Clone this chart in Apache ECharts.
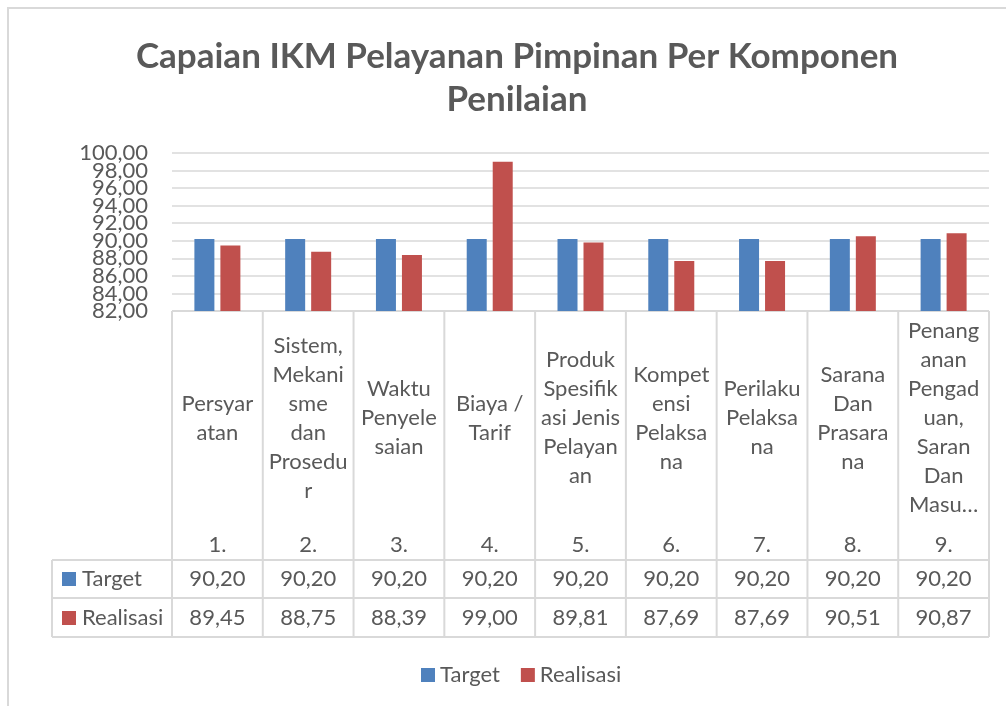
<!DOCTYPE html>
<html>
<head>
<meta charset="utf-8">
<script src="https://cdn.jsdelivr.net/npm/echarts@6/dist/echarts.min.js"></script>
<style>html,body{margin:0;padding:0;background:#fff}#c{width:1006px;height:706px}</style>
</head>
<body>
<div id="c"></div>
<script>
const titleText = 'Capaian IKM Pelayanan Pimpinan Per Komponen\nPenilaian';
const categoryLabels = [
  'Persyar\natan',
  'Sistem,\nMekani\nsme\ndan\nProsedu\nr',
  'Waktu\nPenyele\nsaian',
  'Biaya /\nTarif',
  'Produk\nSpesifik\nasi Jenis\nPelayan\nan',
  'Kompet\nensi\nPelaksa\nna',
  'Perilaku\nPelaksa\nna',
  'Sarana\nDan\nPrasara\nna',
  'Penang\nanan\nPengad\nuan,\nSaran\nDan\nMasu\u2026'
];
const categoryNumbers = ['1.', '2.', '3.', '4.', '5.', '6.', '7.', '8.', '9.'];
const seriesNames = ['Target', 'Realisasi'];
const targetValues = [90.20, 90.20, 90.20, 90.20, 90.20, 90.20, 90.20, 90.20, 90.20];
const realisasiValues = [89.45, 88.75, 88.39, 99.00, 89.81, 87.69, 87.69, 90.51, 90.87];
const yTicks = [82, 84, 86, 88, 90, 92, 94, 96, 98, 100];
const yMin = 82, yMax = 100, yStep = 2;

const FONT = 'Lato';
const TXT = '#595959';
const LINE = '#D9D9D9';
const BLUE = '#4F81BD';
const RED = '#C0504D';
const fmt = v => v.toFixed(2).replace('.', ',');

const chart = echarts.init(document.getElementById('c'), null, {renderer: 'canvas'});
const gridLeft = 172, gridRight = 17, gridTop = 153, gridBottomY = 311;

chart.setOption({
  animation: false,
  textStyle: {fontFamily: FONT},
  title: {
    text: titleText,
    left: 512, top: 30, textAlign: 'center',
    textStyle: {fontFamily: FONT, fontSize: 35, fontWeight: 'bold', color: TXT, lineHeight: 43}
  },
  legend: {
    data: seriesNames,
    left: 416, top: 659,
    icon: 'rect', itemWidth: 14, itemHeight: 14, itemGap: 21,
    textStyle: {fontFamily: FONT, fontSize: 22, color: TXT, padding: [0, 0, 0, 0]}
  },
  grid: {left: gridLeft, right: gridRight, top: gridTop, bottom: 706 - gridBottomY, containLabel: false},
  xAxis: {
    type: 'category',
    data: categoryNumbers,
    axisLine: {show: false}, axisTick: {show: false}, axisLabel: {show: false}
  },
  yAxis: {
    type: 'value', min: yMin, max: yMax, interval: yStep,
    axisLine: {show: false}, axisTick: {show: false},
    splitLine: {lineStyle: {color: LINE, width: 1.5}},
    axisLabel: {show: false}
  },
  series: [
    {name: seriesNames[0], type: 'bar', data: targetValues, barWidth: 20, barGap: '30%', itemStyle: {color: BLUE}},
    {name: seriesNames[1], type: 'bar', data: realisasiValues, barWidth: 20, barGap: '30%', itemStyle: {color: RED}}
  ]
});

const g = [];
const txt = (x, y, text, align, extra) => g.push(Object.assign({
  type: 'text', x, y,
  style: {text, fill: TXT, font: '22px ' + FONT, align: align || 'center', verticalAlign: 'middle', lineHeight: 29}
}, extra || {}));

// Y tick labels placed through the y-axis scale (tight spacing, as in the reference)
yTicks.forEach(v => txt(gridLeft - 24, chart.convertToPixel({yAxisIndex: 0}, v), fmt(v), 'right'));

// Data table drawn from the same arrays, positioned through the axis scale
const centers = categoryNumbers.map((_, i) => chart.convertToPixel({xAxisIndex: 0}, i));
const half = (centers[1] - centers[0]) / 2;
const xLeft = centers[0] - half, xRight = centers[centers.length - 1] + half;
const rowTop = gridBottomY, rowHead = 560, rowT = 598, rowR = 637, colLeft = 52;
g.push({type: 'rect', shape: {x: 8, y: 8, width: 1020, height: 720}, style: {fill: 'none', stroke: LINE, lineWidth: 2}, silent: true});
const hline = (x1, x2, y) => g.push({type: 'line', shape: {x1, y1: y, x2, y2: y}, style: {stroke: LINE, lineWidth: 2}, silent: true});
const vline = (x, y1, y2) => g.push({type: 'line', shape: {x1: x, y1, x2: x, y2}, style: {stroke: LINE, lineWidth: 2}, silent: true});
hline(xLeft, xRight, rowTop);
hline(colLeft, xRight, rowHead);
hline(colLeft, xRight, rowT);
hline(colLeft, xRight, rowR);
vline(colLeft, rowHead, rowR);
for (let i = 0; i <= centers.length; i++) vline(xLeft + i * 2 * half, rowTop, rowR);
centers.forEach((cx, i) => {
  txt(cx, 418, categoryLabels[i]);
  txt(cx, 545, categoryNumbers[i]);
  txt(cx, 579, fmt(targetValues[i]));
  txt(cx, 618, fmt(realisasiValues[i]));
});
[[BLUE, 579, seriesNames[0]], [RED, 618, seriesNames[1]]].forEach(([c, y, name]) => {
  g.push({type: 'rect', shape: {x: 62, y: y - 7, width: 14, height: 14}, style: {fill: c}, silent: true});
  txt(82, y, name, 'left');
});
chart.setOption({graphic: g});
</script>
</body>
</html>
